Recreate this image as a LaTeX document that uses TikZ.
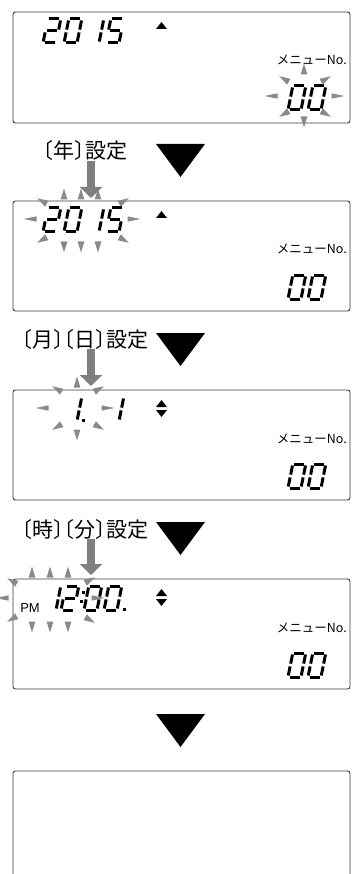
\documentclass[tikz,border=0pt]{standalone}
\usepackage{fontspec}
\newfontfamily\jpfont[RawFeature=+halt]{Noto Sans CJK JP}
\newfontfamily\jpmenu{Noto Sans CJK JP}
\newfontfamily\pmfont{Liberation Sans}
\usetikzlibrary{arrows.meta}
\definecolor{raygrey}{HTML}{8A8A8A}
\definecolor{arrgrey}{HTML}{7F7F7F}
\definecolor{edgegrey}{HTML}{3A3A3A}
% seven-segment pieces (local coords, y up, cell 13 x 24)
\newcommand\sgA{\draw[seg] (1.5,24)--(11.5,24);}
\newcommand\sgB{\draw[seg] (13,22.5)--(13,13.4);}
\newcommand\sgC{\draw[seg] (13,10.6)--(13,1.5);}
\newcommand\sgD{\draw[seg] (1.5,0)--(11.5,0);}
\newcommand\sgE{\draw[seg] (0,1.5)--(0,10.6);}
\newcommand\sgF{\draw[seg] (0,13.4)--(0,22.5);}
\newcommand\sgG{\draw[seg] (1.5,12)--(11.5,12);}
\newcommand\lcdd[3]{\begin{scope}[shift={(#1,#2)},xslant=0.2,yscale=-1]\foreach \s in {#3}{\csname sg\s\endcsname}\end{scope}}
\newcommand\lcddot[2]{\fill (#1-1.5,#2-1.5) rectangle (#1+1.5,#2+1.5);}
\newcommand\ray[4][5.5]{\fill[raygrey,shift={(#2,#3)},rotate=#4] (-#1,-3.4)--(#1,0)--(-#1,3.4)--cycle;}
\newcommand\hray[3]{\fill[raygrey,shift={(#1,#2)},rotate=#3] (-6.5,-2.7)--(6.5,0)--(-6.5,2.7)--cycle;}
\newcommand\upmark{\fill (156,17)--(167,17)--(161.5,10)--cycle;}
\newcommand\updownmark{\fill (156,17)--(167,17)--(161.5,10)--cycle;\fill (156,20)--(167,20)--(161.5,27)--cycle;}
\newcommand\menupart[2]{%
  \draw[lcdbox] (13,0) rectangle (350,#2);
  \node[menutxt] (menu#1) at (347,53) {メニューNo.};
  \lcdd{288}{98}{A,B,C,D,E,F}\lcdd{308}{98}{A,B,C,D,E,F}}
\newcommand\bigtri{\fill (156,-57)--(205,-57)--(180.5,-24)--cycle;}
\begin{document}
\begin{tikzpicture}[x=1pt,y=-1pt,
  seg/.style={line width=3pt,black},
  lcdbox/.style={draw=edgegrey,line width=0.9pt,rounded corners=2.5pt},
  menutxt/.style={font=\jpmenu\fontsize{12.5}{12.5}\selectfont,inner sep=0,anchor=base east},
  jplabel/.style={font=\jpfont\fontsize{21}{21}\selectfont,inner sep=0,anchor=base},
  garrow/.style={arrgrey,line width=8pt,-{Triangle[width=22pt,length=11pt]}}]
\useasboundingbox (0,0) rectangle (358,874);
\clip (0,0) rectangle (358,874);
% ---------- box 1
\begin{scope}[shift={(0,12)}]
  \menupart{1}{111}
  \lcdd{43}{31}{A,B,G,E,D}\lcdd{64}{31}{A,B,C,D,E,F}\lcdd{86}{31}{B,C}\lcdd{106}{31}{A,F,G,C,D}
  \upmark
  \ray{304}{57}{90}\ray{304}{110}{270}\hray{271}{84}{180}\hray{338}{84}{0}
  \ray{284}{67}{150}\ray{326}{67}{30}\ray{284}{102}{210}\ray{326}{102}{330}
\end{scope}
% ---------- box 2
\begin{scope}[shift={(0,201)}]
  \node[jplabel] (lbl1) at (85,-42) {〔年〕設定};
  \bigtri
  \menupart{2}{110}
  \lcdd{43}{31}{A,B,G,E,D}\lcdd{64}{31}{A,B,C,D,E,F}\lcdd{86}{31}{B,C}\lcdd{106}{31}{A,F,G,C,D}
  \upmark
  \ray{64}{-7}{90}\ray{81}{-7}{90}\ray{98}{-7}{90}
  \ray{64}{46}{270}\ray{81}{46}{270}\ray{98}{46}{270}
  \hray{30}{18}{180}\hray{134}{18}{0}
  \ray{42}{0}{150}\ray{124}{0}{30}\ray{42}{39}{210}\ray{124}{39}{330}
  \coordinate (tip1) at (91,-3);
  \draw[garrow] ([xshift=6pt]lbl1.south) -- (tip1);
\end{scope}
% ---------- box 3
\begin{scope}[shift={(0,390)}]
  \node[jplabel] (lbl2) at (85,-43) {〔月〕〔日〕設定};
  \bigtri
  \menupart{3}{110}
  \lcdd{64}{31}{B,C}\lcddot{83}{30}\lcdd{106}{31}{B,C}
  \updownmark
  \ray{77}{-8}{90}\ray{77}{45}{270}\hray{42}{18}{180}\hray{108}{18}{0}
  \ray{57}{-1}{150}\ray{99}{-1}{30}\ray{57}{37}{210}\ray{99}{37}{330}
  \coordinate (tip2) at (91,-4);
  \draw[garrow] ([xshift=6pt]lbl2.south) -- (tip2);
\end{scope}
% ---------- box 4
\begin{scope}[shift={(0,579)}]
  \node[jplabel] (lbl3) at (85,-42) {〔時〕〔分〕設定};
  \bigtri
  \menupart{4}{110}
  \node[font=\pmfont\fontsize{13}{13}\selectfont,inner sep=0,anchor=base] (pm) at (30,33) {PM};
  \lcdd{43}{31}{B,C}\lcdd{61}{31}{A,B,G,E,D}
  \lcddot{83}{13}\lcddot{81}{22}
  \lcdd{84}{31}{A,B,C,D,E,F}\lcdd{104}{31}{A,B,C,D,E,F}\lcddot{124}{30}
  \updownmark
  \ray{32}{-7}{90}\ray{50}{-7}{90}\ray{68}{-7}{90}
  \ray{32}{48}{270}\ray{50}{48}{270}\ray{68}{48}{270}
  \hray{2}{19}{180}\hray{98}{19}{0}
  \ray{12}{2}{150}\ray{90}{1}{30}\ray{12}{40}{210}\ray{90}{41}{330}
  \coordinate (tip3) at (91,-4);
  \draw[garrow] ([xshift=6pt]lbl3.south) -- (tip3);
\end{scope}
% ---------- box 5
\fill (156,714)--(205,714)--(180.5,747)--cycle;
\draw[lcdbox] (13,771) rectangle (350,900);
\end{tikzpicture}
\end{document}
